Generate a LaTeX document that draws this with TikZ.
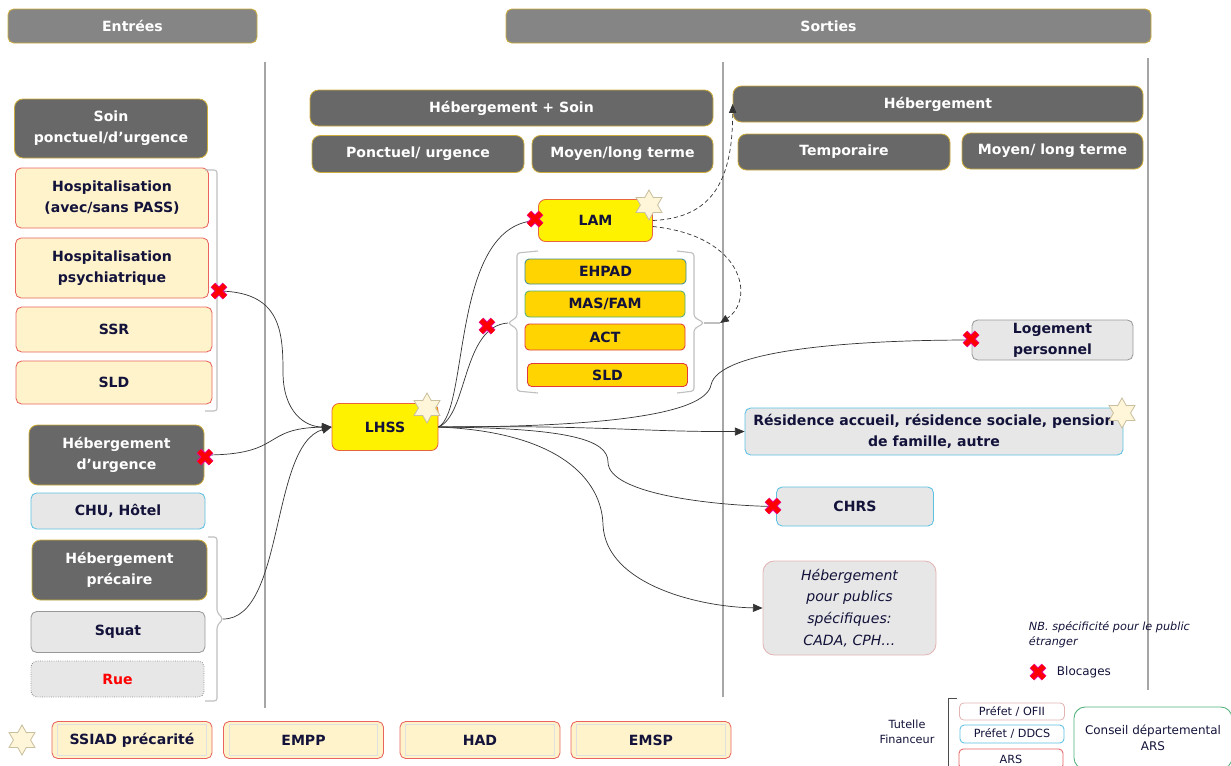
\documentclass[tikz,border=0pt]{standalone}
\usepackage{fontspec}
\setmainfont{DejaVu Sans}
\usetikzlibrary{arrows.meta,shapes.geometric,calc}

\definecolor{encre}{HTML}{12123A}
\definecolor{grisTitre}{HTML}{858585}
\definecolor{grisSombre}{HTML}{686868}
\definecolor{orBord}{HTML}{CDAE3C}
\definecolor{jaunePale}{HTML}{FFF3CC}
\definecolor{rougeBord}{HTML}{E8645C}
\definecolor{orangeBord}{HTML}{E8643A}
\definecolor{orVif}{HTML}{FFD400}
\definecolor{rougeVif}{HTML}{E23A3A}
\definecolor{vertBord}{HTML}{4FB07A}
\definecolor{grisClair}{HTML}{E7E7E7}
\definecolor{bleuBord}{HTML}{5BC0E2}
\definecolor{roseBord}{HTML}{E2B4B4}
\definecolor{etoileFond}{HTML}{FFF5D8}
\definecolor{etoileBord}{HTML}{C9C0A0}

\tikzset{
  blocage/.pic={
    \draw[magenta, line width=4.6pt] (-6,-6) -- (6,6) (-6,6) -- (6,-6);
    \draw[red, line width=3.2pt] (-6,-6) -- (6,6) (-6,6) -- (6,-6);
  }
}

\begin{document}
\begin{tikzpicture}[x=0.025cm, y=-0.025cm,
    wh/.style 2 args={minimum width=#1*0.025cm, minimum height=#2*0.025cm},
    boite/.style={rounded corners=4pt, align=center, font=\fontsize{10}{15}\selectfont\bfseries,
      text=encre, line width=0.6pt, inner sep=1pt},
    titre/.style={boite, fill=grisTitre, draw=orBord, text=white},
    sombre/.style={boite, fill=grisSombre, draw=orBord, text=white, rounded corners=6pt},
    soin/.style={boite, fill=jaunePale, draw=rougeBord},
    jaune/.style={boite, fill=yellow, draw=orangeBord, rounded corners=5pt},
    etab/.style={boite, fill=orVif, draw=rougeVif, rounded corners=3pt},
    clair/.style={boite, fill=grisClair, draw=bleuBord},
    legende/.style={boite, font=\fontsize{8}{10}\selectfont, fill=white, rounded corners=3pt},
    etoile/.style={star, star points=6, star point ratio=1.75, minimum size=30*0.025cm,
      inner sep=0pt, fill=etoileFond, draw=etoileBord, line width=0.6pt},
    sep/.style={draw=black!35, line width=0.8pt},
    accol/.style={draw=black!25, line width=0.8pt, rounded corners=2pt},
    flux/.style={draw=black!80, line width=0.5pt},
    fleche/.style={flux, -{Triangle[length=2.4mm, width=2mm]}},
    pointille/.style={draw=black!80, line width=0.5pt, densely dashed, -{Triangle[length=2.2mm, width=1.8mm]}}
  ]

  \useasboundingbox (0,0) rectangle (1231,765);

  % separations
  \draw[sep] (265,62) -- (265,708);
  \draw[sep] (723,62) -- (723,697);
  \draw[sep] (1148,58) -- (1148,690);

  % titres
  \node[titre, wh={249}{34}] (entrees) at (132.5,26) {Entrées};
  \node[titre, wh={645}{34}] (sorties) at (828.5,26) {Sorties};
  \node[sombre, wh={403}{36}] (hebSoin) at (511.5,108) {Hébergement + Soin};
  \node[sombre, wh={212}{37}] (ponctuel) at (418,154) {Ponctuel/ urgence};
  \node[sombre, wh={181}{37}] (moyenSoin) at (622.5,154) {Moyen/long terme};
  \node[sombre, wh={410}{36}] (heb) at (938,104) {Hébergement};
  \node[sombre, wh={212}{36}] (temporaire) at (844,152) {Temporaire};
  \node[sombre, wh={181}{36}] (moyenHeb) at (1052.5,151) {Moyen/ long terme};

  % entrees
  \node[sombre, wh={193}{59}] (soin) at (111,128.5) {Soin\\ponctuel/d’urgence};
  \node[soin, wh={193}{60}] (hosp) at (112,198) {Hospitalisation\\(avec/sans PASS)};
  \node[soin, wh={193}{60}] (hpsy) at (112,268) {Hospitalisation\\psychiatrique};
  \node[soin, wh={196}{45}] (ssr) at (114,329.5) {SSR};
  \node[soin, wh={196}{43}] (sldE) at (114,382.5) {SLD};
  \node[sombre, wh={175}{60}] (hurg) at (116.5,455) {Hébergement\\d’urgence};
  \node[clair, wh={174}{36}] (chu) at (118,511) {CHU, Hôtel};
  \node[sombre, wh={175}{60}] (hprec) at (119.5,570) {Hébergement\\précaire};
  \node[clair, draw=black!40, wh={174}{41}] (squat) at (118,632) {Squat};
  \node[clair, draw=black!45, densely dotted, wh={173}{36}, text=red] (rue) at (117.5,679) {Rue};

  \draw[accol] (205,170) -- (217,170) -- (217,411) -- (205,411);
  \coordinate (hospBr) at (217,291);
  \draw[accol] (208,537) -- (217,537) -- (217,612) -- (223,619) -- (217,626) -- (217,701) -- (205,701);
  \coordinate (precBr) at (223,619);

  % hebergement + soin
  \node[jaune, wh={106}{47}] (lhss) at (385,427) {LHSS};
  \node[jaune, wh={114}{42}] (lam) at (595.5,220.5) {LAM};
  \node[etab, draw=vertBord!80!blue, wh={161}{25}] (ehpad) at (605.5,271.5) {EHPAD};
  \node[etab, draw=vertBord, wh={160}{26}] (masfam) at (605,304) {MAS/FAM};
  \node[etab, wh={160}{26}] (act) at (605,337) {ACT};
  \node[etab, wh={160}{23}] (sldM) at (607.5,375) {SLD};

  \draw[accol] (538,251) -- (517,253) -- (517,317) -- (508,323) -- (517,329) -- (517,391) -- (538,393);
  \coordinate (etabG) at (508,323);
  \draw[accol] (677,251) -- (694,253) -- (694,317) -- (704,323) -- (694,329) -- (694,391) -- (677,393);
  \draw[accol] (704,323) -- (720,323);
  \coordinate (etabD) at (720,323);

  % sorties
  \node[clair, draw=black!40, wh={161}{40}] (logement) at (1052.5,340) {Logement\\personnel};
  \node[clair, wh={378}{47}] (residence) at (934,431.5) {Résidence accueil, résidence sociale, pension\\de famille, autre};
  \node[clair, wh={157}{39}] (chrs) at (855,506.5) {CHRS};
  \node[clair, draw=roseBord, rounded corners=8pt, wh={173}{94},
    font=\fontsize{10}{15.5}\selectfont\itshape] (publics) at (849.5,608) {Hébergement\\pour publics\\spécifiques:\\CADA, CPH…};

  % entrees vers LHSS
  \draw[fleche] (hospBr) .. controls (280,291) and (283,330) .. (283,372)
    .. controls (283,412) and (305,427) .. (lhss.west);
  \draw[fleche] (hurg.east) .. controls (285,455) and (260,428) .. (lhss.west);
  \draw[fleche] (precBr) .. controls (285,619) and (270,445) .. (lhss.west);

  % LHSS vers sorties
  \draw[flux] (lhss.east) .. controls (470,410) and (450,222) .. (lam.west);
  \draw[flux] (lhss.east) .. controls (468,415) and (462,326) .. (etabG);
  \draw[flux] (lhss.east) .. controls (600,427) and (705,415) .. (711,385)
    .. controls (718,350) and (850,340) .. (logement.west);
  \draw[fleche] (lhss.east) .. controls (600,425) and (640,432) .. (residence.west);
  \draw[flux] (lhss.east) .. controls (570,428) and (608,440) .. (608,462)
    .. controls (608,495) and (720,506) .. (chrs.west);
  \draw[fleche] (lhss.east) .. controls (560,432) and (602,480) .. (603,525)
    .. controls (606,585) and (700,607) .. (publics.west);

  % LAM
  \draw[pointille] (lam.east) .. controls (705,218) and (733,190) .. (heb.west);
  \draw[pointille] ([yshift=-0.15cm]lam.east) .. controls (745,236) and (755,300) .. (etabD);

  % blocages
  \pic at (219,291) {blocage};
  \pic at (205,457) {blocage};
  \pic at (535,219) {blocage};
  \pic at (487,326) {blocage};
  \pic at (971,339) {blocage};
  \pic at (773,506) {blocage};

  % etoiles
  \node[etoile] (etLhss) at (427,408) {};
  \node[etoile] (etLam) at (649,205) {};
  \node[etoile] (etResidence) at (1122,413) {};
  \node[etoile] (etLegende) at (22,740) {};

  % dispositifs mobiles
  \foreach \nom/\x/\txt in {ssiad/132/SSIAD précarité, empp/303.5/EMPP, had/480/HAD, emsp/651/EMSP} {
    \node[soin, wh={160}{37}] (\nom) at (\x,740) {\txt};
    \draw[black!12, line width=0.8pt] ($(\nom.north west)+(6,3)$) rectangle ($(\nom.south east)+(-6,-3)$);
  }

  % legende
  \node[anchor=north west, align=left, text=encre, font=\fontsize{8}{10.5}\selectfont\itshape] (nb) at (1024,617) {NB. spécificité pour le public\\étranger};
  \pic at (1038,672) {blocage};
  \node[anchor=west, text=encre, font=\fontsize{8.5}{10}\selectfont] (blocages) at (1052,672) {Blocages};
  \node[align=center, text=encre, font=\fontsize{8}{11}\selectfont] (tutelle) at (907,732) {Tutelle\\Financeur};
  \draw[draw=black!70, line width=0.6pt] (957,698) -- (948,698) -- (948,768);
  \node[legende, draw=roseBord, wh={105}{17}] (ofii) at (1012,711.5) {Préfet / OFII};
  \node[legende, draw=bleuBord, wh={104}{18}] (ddcs) at (1012,734) {Préfet / DDCS};
  \node[legende, draw=rougeVif!80, wh={104}{20}] (ars) at (1011,759) {ARS};
  \node[legende, draw=vertBord, rounded corners=8pt, font=\fontsize{8.5}{11}\selectfont, wh={158}{62}] (conseil) at (1153,738) {Conseil départemental\\ARS};

\end{tikzpicture}
\end{document}
